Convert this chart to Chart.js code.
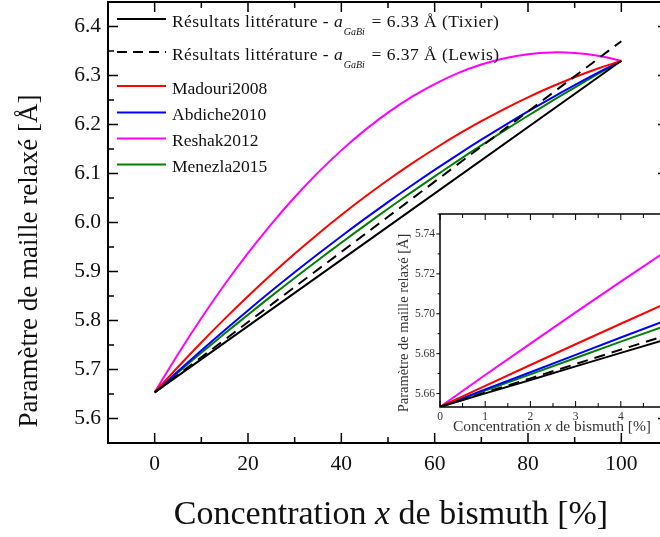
<!DOCTYPE html>
<html><head><meta charset="utf-8">
<script src="https://cdn.jsdelivr.net/npm/chart.js@4.4.1/dist/chart.umd.min.js"></script>
<style>
html,body{margin:0;padding:0;background:#fff;overflow:hidden;}
#wrap{position:relative;width:660px;height:537px;overflow:hidden;background:#fff;}
#main{position:absolute;left:0;top:0;}
#inset{position:absolute;left:370px;top:200px;}
</style></head><body>
<div id="wrap"><canvas id="main" width="700" height="537"></canvas><canvas id="inset" width="320" height="245"></canvas></div>
<script>
// ---------- data ----------
const xMain      = [0, 5, 10, 15, 20, 25, 30, 35, 40, 45, 50, 55, 60, 65, 70, 75, 80, 85, 90, 95, 100];
const xLinear    = [0, 100];
const tixier     = [5.6533, 6.33];
const lewis      = [5.6533, 6.37];
const madouri    = [5.6533, 5.7052, 5.7552, 5.8033, 5.8494, 5.8938, 5.9361, 5.9766, 6.0152, 6.0519, 6.0867,
                    6.1196, 6.1505, 6.1797, 6.2068, 6.2321, 6.2555, 6.2770, 6.2965, 6.3143, 6.33];
const abdiche    = [5.6533, 5.6966, 5.7390, 5.7803, 5.8206, 5.8600, 5.8983, 5.9356, 5.9720, 6.0073, 6.0417,
                    6.0750, 6.1073, 6.1387, 6.1690, 6.1983, 6.2267, 6.2540, 6.2803, 6.3057, 6.33];
const reshak     = [5.6533, 5.7313, 5.8047, 5.8734, 5.9374, 5.9969, 6.0516, 6.1017, 6.1472, 6.1880, 6.2242,
                    6.2557, 6.2825, 6.3048, 6.3223, 6.3352, 6.3435, 6.3471, 6.3460, 6.3404, 6.33];
const menezla    = [5.6533, 5.6940, 5.7341, 5.7733, 5.8118, 5.8497, 5.8868, 5.9231, 5.9588, 5.9937, 6.0280,
                    6.0614, 6.0941, 6.1262, 6.1575, 6.1880, 6.2179, 6.2470, 6.2754, 6.3031, 6.33];

const xInset         = [0, 1, 2, 3, 4, 5];
const tixierInset    = [5.6533, 5.6601, 5.6668, 5.6736, 5.6804, 5.6871];
const lewisInset     = [5.6533, 5.6605, 5.6676, 5.6748, 5.6820, 5.6891];
const madouriInset   = [5.6533, 5.6638, 5.6743, 5.6847, 5.6950, 5.7052];
const abdicheInset   = [5.6533, 5.6621, 5.6707, 5.6794, 5.6881, 5.6966];
const reshakInset    = [5.6533, 5.6693, 5.6850, 5.7007, 5.7161, 5.7313];
const menezlaInset   = [5.6533, 5.6615, 5.6696, 5.6778, 5.6860, 5.6940];

const xTicksMain  = [0, 20, 40, 60, 80, 100];
const yTicksMain  = [5.6, 5.7, 5.8, 5.9, 6.0, 6.1, 6.2, 6.3, 6.4];
const xTicksInset = [0, 1, 2, 3, 4, 5];
const yTicksInset = [5.66, 5.68, 5.70, 5.72, 5.74];

const seriesNames = ['Tixier', 'Lewis', 'Madouri2008', 'Abdiche2010', 'Reshak2012', 'Menezla2015'];
const legendParts = [
  [['Résultats littérature - ', 'n'], ['a', 'i'], ['GaBi', 'sub'], [' = 6.33 Å (Tixier)', 'n']],
  [['Résultats littérature - ', 'n'], ['a', 'i'], ['GaBi', 'sub'], [' = 6.37 Å (Lewis)', 'n']],
  [['Madouri2008', 'n']],
  [['Abdiche2010', 'n']],
  [['Reshak2012', 'n']],
  [['Menezla2015', 'n']]
];
const yTitleParts = [['Paramètre de maille relaxé [Å]', 'n']];
const xTitleParts = [['Concentration ', 'n'], ['x', 'i'], [' de bismuth [%]', 'n']];

// ---------- styles ----------
const FONT = 'Liberation Serif';
const colors = ['#000000', '#000000', '#ff0000', '#0000ff', '#ff00ff', '#008000'];
const dashes = [[], [11, 7], [], [], [], []];

function pts(xs, ys) { return xs.map((x, i) => ({x: x, y: ys[i]})); }
function makeDatasets(sets, tension) {
  return sets.map((s, i) => ({
    label: seriesNames[i],
    data: pts(s[0], s[1]),
    borderColor: colors[i],
    borderDash: dashes[i],
    borderWidth: 2,
    pointRadius: 0,
    fill: false,
    tension: tension
  }));
}

const frameTicks = {
  id: 'frameTicks',
  afterDatasetsDraw(chart, args, o) {
    const {ctx, chartArea: a, scales: {x, y}} = chart;
    ctx.save();
    ctx.strokeStyle = '#000';
    ctx.lineWidth = o.tickWidth;
    ctx.setLineDash([]);
    ctx.beginPath();
    const nx = Math.round((x.max - x.min) / o.xStep);
    for (let i = 0; i <= nx; i++) {
      const v = x.min + i * o.xStep;
      const px = x.getPixelForValue(v);
      const r = v / o.xMajor;
      const L = Math.abs(r - Math.round(r)) < 1e-6 ? o.major : o.minor;
      ctx.moveTo(px, a.bottom); ctx.lineTo(px, a.bottom - L);
      ctx.moveTo(px, a.top); ctx.lineTo(px, a.top + L);
    }
    const y0 = Math.ceil(y.min / o.yStep - 1e-6);
    const y1 = Math.floor(y.max / o.yStep + 1e-6);
    for (let k = y0; k <= y1; k++) {
      const v = k * o.yStep;
      const py = y.getPixelForValue(v);
      const r = v / o.yMajor;
      const L = Math.abs(r - Math.round(r)) < 1e-4 ? o.major : o.minor;
      if (o.leftOut) { ctx.moveTo(a.left, py); ctx.lineTo(a.left - L * 0.6, py); }
      else { ctx.moveTo(a.left, py); ctx.lineTo(a.left + L, py); }
      ctx.moveTo(a.right, py); ctx.lineTo(a.right - L, py);
    }
    ctx.stroke();
    ctx.lineWidth = o.frameWidth;
    ctx.strokeRect(a.left, a.top, a.right - a.left, a.bottom - a.top);
    ctx.restore();
  }
};

const texLegend = {
  id: 'texLegend',
  afterDatasetsDraw(chart) {
    const ctx = chart.ctx;
    const lineY = [19, 52, 86, 112.5, 138.5, 164.5];
    ctx.save();
    chart.data.datasets.forEach((ds, i) => {
      const ly = lineY[i];
      ctx.beginPath();
      ctx.strokeStyle = ds.borderColor;
      ctx.lineWidth = 2;
      ctx.setLineDash(ds.borderDash.length ? [10, 6] : []);
      ctx.moveTo(117, ly); ctx.lineTo(166, ly);
      ctx.stroke();
      ctx.setLineDash([]);
      ctx.fillStyle = '#111';
      ctx.textBaseline = 'alphabetic';
      ctx.textAlign = 'left';
      let tx = 172;
      const base = ly + 7.5;
      const long = legendParts[i].length > 1;
      legendParts[i].forEach(([t, st]) => {
        ctx.letterSpacing = (long && st === 'n') ? '0.45px' : '0px';
        if (st === 'n') ctx.font = '17.5px "' + FONT + '"';
        else if (st === 'i') ctx.font = 'italic 17.5px "' + FONT + '"';
        else ctx.font = 'italic 10px "' + FONT + '"';
        ctx.fillText(t, tx, st === 'sub' ? base + 8 : base);
        tx += ctx.measureText(t).width + (st === 'sub' ? 2 : (st === 'i' ? 1 : 0));
      });
      ctx.letterSpacing = '0px';
    });
    ctx.restore();
  }
};

// axis titles with mixed roman / italic parts
const axisTitles = {
  id: 'axisTitles',
  afterDraw(chart, args, o) {
    const ctx = chart.ctx;
    o.items.forEach(it => {
      ctx.save();
      ctx.translate(it.x, it.y);
      if (it.rotate) ctx.rotate(-Math.PI / 2);
      ctx.fillStyle = it.color;
      ctx.textBaseline = 'middle';
      ctx.textAlign = 'left';
      const fontFor = st => (st === 'i' ? 'italic ' : '') + it.size + 'px "' + FONT + '"';
      let w = 0;
      it.parts.forEach(([t, st]) => { ctx.font = fontFor(st); w += ctx.measureText(t).width; });
      let cx = -w / 2;
      it.parts.forEach(([t, st]) => { ctx.font = fontFor(st); ctx.fillText(t, cx, 0); cx += ctx.measureText(t).width; });
      ctx.restore();
    });
  }
};

const whiteArea = {
  id: 'whiteArea',
  beforeDatasetsDraw(chart) {
    const {ctx, chartArea: a} = chart;
    ctx.save(); ctx.fillStyle = '#fff';
    ctx.fillRect(a.left, a.top, a.right - a.left, a.bottom - a.top);
    ctx.restore();
  }
};

function zeroPad(s) { s.paddingTop = 0; s.paddingBottom = 0; s.paddingLeft = 0; s.paddingRight = 0; }
const noGrid = { display: false, drawTicks: false, tickLength: 0 };

// ---------- main chart ----------
new Chart(document.getElementById('main'), {
  type: 'line',
  data: { datasets: makeDatasets([
    [xLinear, tixier], [xLinear, lewis], [xMain, madouri],
    [xMain, abdiche], [xMain, reshak], [xMain, menezla]], 0.4) },
  plugins: [frameTicks, texLegend, axisTitles],
  options: {
    responsive: false, animation: false, devicePixelRatio: 1,
    layout: { padding: { left: 0, right: 32, top: 2, bottom: 0 } },
    plugins: {
      legend: { display: false }, tooltip: { enabled: false },
      frameTicks: { xStep: 10, xMajor: 20, yStep: 0.05, yMajor: 0.1, major: 10, minor: 6, tickWidth: 1.5, frameWidth: 2, leftOut: false },
      axisTitles: { items: [
        { parts: yTitleParts, x: 30, y: 261, size: 27, rotate: true, color: '#111' },
        { parts: xTitleParts, x: 391, y: 515, size: 34, rotate: false, color: '#111' }
      ] }
    },
    scales: {
      x: {
        type: 'linear', min: -10, max: 110,
        grid: noGrid, border: { display: false },
        afterBuildTicks: s => { s.ticks = xTicksMain.map(v => ({value: v})); },
        afterFit: s => { s.height = 94; zeroPad(s); },
        ticks: { font: { family: FONT, size: 21.5 }, color: '#111', padding: 8, maxRotation: 0, autoSkip: false, callback: v => String(v) },
        title: { display: false }
      },
      y: {
        type: 'linear', min: 5.55, max: 6.45,
        grid: noGrid, border: { display: false },
        afterBuildTicks: s => { s.ticks = yTicksMain.map(v => ({value: v})); },
        afterFit: s => { s.width = 108; zeroPad(s); },
        ticks: { font: { family: FONT, size: 21.5 }, color: '#111', padding: 7, autoSkip: false, callback: v => Number(v).toFixed(1) },
        title: { display: false }
      }
    }
  }
});

// ---------- inset chart ----------
new Chart(document.getElementById('inset'), {
  type: 'line',
  data: { datasets: makeDatasets([
    [xInset, tixierInset], [xInset, lewisInset], [xInset, madouriInset],
    [xInset, abdicheInset], [xInset, reshakInset], [xInset, menezlaInset]], 0) },
  plugins: [whiteArea, frameTicks, axisTitles],
  options: {
    responsive: false, animation: false, devicePixelRatio: 1,
    layout: { padding: { left: 0, right: 24, top: 14, bottom: 0 } },
    plugins: {
      legend: { display: false }, tooltip: { enabled: false },
      frameTicks: { xStep: 0.5, xMajor: 1, yStep: 0.01, yMajor: 0.02, major: 6, minor: 4, tickWidth: 1, frameWidth: 1.5, leftOut: true },
      axisTitles: { items: [
        { parts: yTitleParts, x: 34, y: 123, size: 14.5, rotate: true, color: '#333' },
        { parts: xTitleParts, x: 182, y: 227, size: 15.5, rotate: false, color: '#333' }
      ] }
    },
    scales: {
      x: {
        type: 'linear', min: 0, max: 5,
        grid: noGrid, border: { display: false },
        afterBuildTicks: s => { s.ticks = xTicksInset.map(v => ({value: v})); },
        afterFit: s => { s.height = 38; zeroPad(s); },
        ticks: { font: { family: FONT, size: 11.5 }, color: '#333', padding: 3, maxRotation: 0, autoSkip: false, callback: v => String(v) },
        title: { display: false }
      },
      y: {
        type: 'linear', min: 5.65325, max: 5.75,
        grid: noGrid, border: { display: false },
        afterBuildTicks: s => { s.ticks = yTicksInset.map(v => ({value: v})); },
        afterFit: s => { s.width = 70; zeroPad(s); },
        ticks: { font: { family: FONT, size: 11.5 }, color: '#333', padding: 5, autoSkip: false, callback: v => Number(v).toFixed(2) },
        title: { display: false }
      }
    }
  }
});
</script>
</body></html>
